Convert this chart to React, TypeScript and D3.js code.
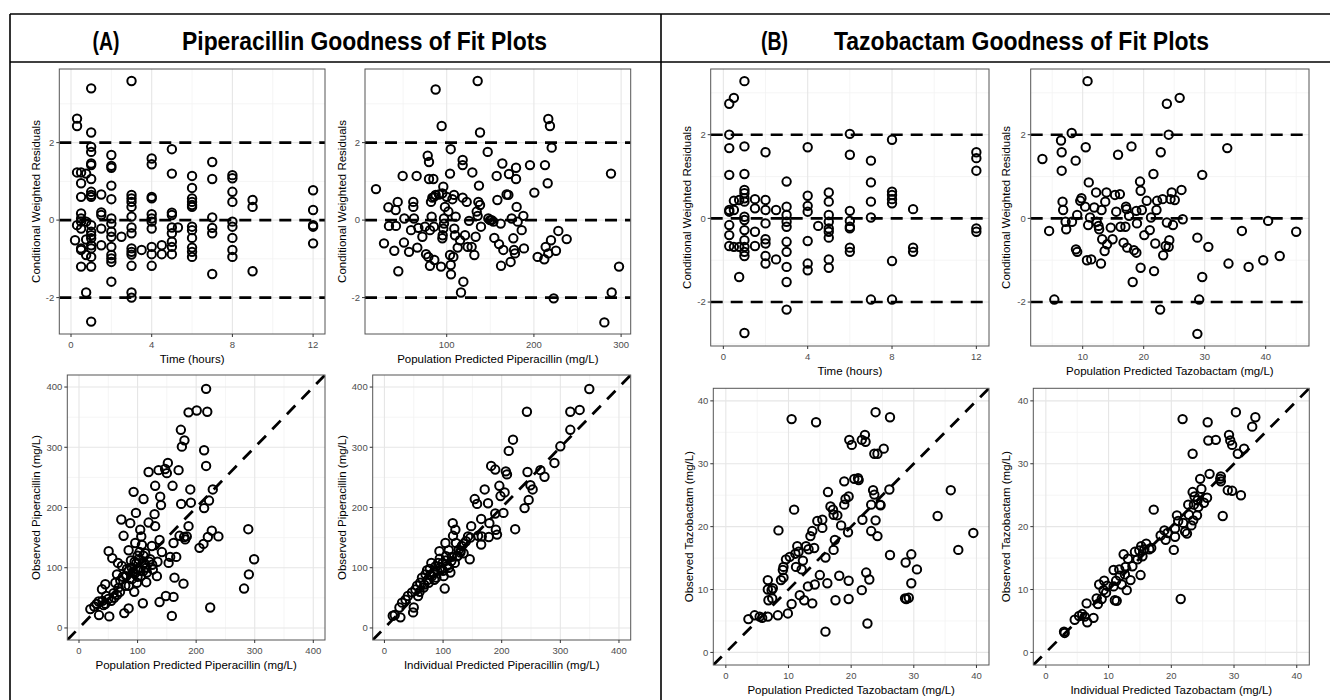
import React from "react";
import * as d3 from "d3";

type Pt = [number, number];

const FONT = "'Liberation Sans', Arial, Helvetica, sans-serif";
const HEAD_FONT = "'Liberation Sans Narrow', 'Arial Narrow', 'Liberation Sans', Arial, sans-serif";

// ---- Piperacillin: time vs CWRES (grouped by sampling time)
const pipTimes = [0.2, 0.3, 0.5, 0.75, 1, 1.5, 2, 2.5, 3, 3.5, 4, 4.5, 5, 5.3, 6, 7, 8, 9, 12];
const pipTimeCwres = [
  [-0.52],
  [2.62, 2.43, 1.23, -0.13],
  [1.23, 0.95, 0.6, 0.17, 0.04, -0.04, -0.22, -0.73, -0.77, -1.2],
  [1.2, -0.04, -0.5, -0.9, -1.87],
  [3.4, 2.26, 1.89, 1.76, 1.46, 1.42, 1.06, 0.73, 0.65, 0.6, -0.13, -0.3, -0.39, -0.47, -0.65, -0.73, -0.95, -1.2, -2.62],
  [0.66, 0.2, 0.13, -0.22, -0.65],
  [1.68, 1.4, 1.35, 0.89, 0.54, 0.04, -0.09, -0.3, -0.43, -0.69, -0.9, -0.99, -1.08, -1.59],
  [-0.43],
  [3.59, 0.65, 0.56, 0.47, 0.34, 0.09, -0.19, -0.34, -0.73, -0.82, -0.89, -1.18, -1.87, -2.0],
  [-0.77],
  [1.59, 1.44, 0.6, 0.56, 0.15, 0.04, -0.04, -0.22, -0.69, -0.88, -1.18],
  [-0.65, -0.88],
  [1.83, 1.2, 0.19, 0.13, -0.19, -0.34, -0.56, -0.69, -0.88],
  [-0.19],
  [1.14, 0.83, 0.56, 0.47, 0.39, 0.34, -0.17, -0.26, -0.46, -0.71, -0.82, -0.95],
  [1.5, 1.06, 0.07, -0.2, -0.34, -1.39],
  [1.16, 1.08, 0.73, 0.47, -0.04, -0.17, -0.46, -0.77, -0.95],
  [0.52, 0.34, -1.32],
  [0.77, 0.26, -0.13, -0.17, -0.6],
];

// ---- Piperacillin: PRED vs CWRES
const pipPredCwres: Pt[] = [
  [18.9, 0.8], [28.1, -0.6], [33.1, 0.33], [33.8, -0.15], [39.9, -0.79], [41.5, 0.26], [41.8, -0.15],
  [43.8, 0.47], [44.5, -1.32], [49.5, 1.14], [51.0, -0.58], [51.4, 0.04], [56.8, -0.82], [59.1, -0.26],
  [61.7, 0.47], [61.7, 0.34], [62.5, 0.04], [65.5, 1.14], [66.3, -0.71], [67.5, -0.2], [72.1, -0.43],
  [75.1, -0.17], [78.2, 1.66], [79.7, 1.5], [79.7, 1.06], [84.7, 1.06], [76.3, -0.88], [78.9, -0.95],
  [80.8, -1.18], [82.0, 0.47], [83.5, 0.58], [85.4, 0.6], [87.3, 0.65], [80.8, -0.26], [82.7, 0.09],
  [85.4, -0.17], [85.8, -1.03], [87.3, 3.37], [91.2, 0.66], [94.2, 2.43], [95.0, 0.69], [96.1, 0.86],
  [93.5, -1.2], [95.0, -0.47], [95.4, -0.39], [96.1, -0.22], [96.9, -0.09], [96.9, 0.04], [98.0, 0.34],
  [100.0, 0.6], [101.9, 0.22], [103.8, 1.2], [104.6, 1.83], [103.8, -0.9], [104.6, -1.16], [104.9, -1.4],
  [106.5, 0.54], [108.4, 0.65], [107.6, -0.95], [108.7, -0.22], [109.5, -0.39], [110.3, 0.09],
  [112.6, -0.71], [115.3, -0.52], [116.4, -1.87], [119.1, -1.59], [118.3, 1.55], [118.3, 1.42],
  [118.3, 0.58], [121.0, -0.39], [122.9, 0.47], [124.0, -0.69], [125.6, -0.02], [128.6, -0.69],
  [129.4, 1.23], [131.7, -0.9], [133.2, -0.43], [134.4, 0.22], [135.5, 3.59], [136.3, 0.47], [137.0, 0.89],
  [138.2, 0.39], [138.2, 2.26], [139.3, -0.17], [135.5, 0.11], [147.0, 1.76], [147.7, 0.04], [149.7, 0.0],
  [151.6, 0.0], [153.5, -0.04], [154.6, -0.46], [157.3, 1.14], [158.1, 0.52], [160.0, -0.62],
  [161.9, -0.09], [162.3, -1.18], [163.8, 1.46], [164.9, -0.77], [168.7, 0.66], [170.7, 0.65],
  [171.4, 1.19], [173.3, -1.08], [174.5, 0.04], [176.4, -0.47], [177.2, -0.77], [178.3, -0.86],
  [179.5, 1.06], [179.5, 1.35], [180.2, 0.34], [181.4, -0.04], [186.0, -0.26], [187.9, 0.11],
  [188.6, -0.73], [195.5, 1.42], [200.5, 0.71], [204.3, -0.95], [211.9, -1.01], [212.7, 1.42],
  [213.5, -0.69], [215.8, 0.95], [216.5, 2.61], [218.4, 2.43], [220.4, 1.87], [219.6, -0.52],
  [216.5, -0.86], [222.7, -2.02], [225.3, -0.79], [228.0, -0.28], [237.6, -0.49], [280.8, -2.64],
  [288.4, 1.2], [289.2, -1.87], [297.6, -1.2],
];

// ---- Piperacillin: PRED vs observed
const pipPredObs: Pt[] = [
  [19.3, 31.3], [26.1, 35.7], [34.1, 21.4], [33.5, 44], [39.2, 64.3], [42, 37.9], [44.9, 72.5], [46.6, 53.3],
  [50.6, 127.5], [51.7, 19.2], [56.8, 115.9], [59, 57.7], [62, 75], [64.8, 89], [66.5, 108], [67.6, 67],
  [70.5, 79], [73.3, 103], [72.2, 180], [76.1, 153], [77.3, 24.7], [79, 70], [80.7, 86], [81.8, 98],
  [84.7, 32.4], [84.7, 129], [87.5, 174], [88.6, 112], [90.3, 81], [92, 93], [93.2, 226], [94.3, 60],
  [96, 141], [97.2, 191], [98, 108], [98.9, 75], [100, 98], [101.7, 114], [103.4, 126], [104.5, 163],
  [105.7, 86], [106.3, 152], [107.4, 138], [109, 41], [110.2, 214], [111.4, 108], [113, 124], [114.8, 76],
  [115.9, 92], [118.8, 175], [118.8, 259], [121.6, 114], [124.4, 136], [126, 97], [129, 189], [130, 169],
  [130, 236], [133, 86], [134, 110], [135.8, 262], [137.5, 43], [137.5, 146], [138.6, 218], [140, 204],
  [141.5, 126], [147, 264], [148.3, 53], [150, 257], [151.7, 274], [153, 108], [155.7, 118], [158.5, 20],
  [159.7, 236], [161.4, 141], [161.4, 51.6], [163, 83.5], [166, 118], [170, 262], [171.6, 153], [174.4, 206],
  [173.9, 329], [175.6, 301], [178.4, 73.6], [179.5, 151], [180, 311.5], [181.3, 147], [184, 152],
  [187, 169], [187, 358], [190, 230], [191, 208], [201, 361], [205.7, 133], [212.5, 139.6], [213.6, 199],
  [213.6, 295], [217, 397], [217, 269], [219, 359], [220, 151], [222, 211.5], [224, 34], [226.7, 161.5],
  [228.4, 230], [238, 152], [281.8, 65.4], [289, 164], [290, 89], [299, 114],
  [30, 40], [40, 45], [45, 40], [50, 48], [55, 45], [60, 50], [65, 55], [70, 60], [75, 85], [85, 70],
  [85, 95], [90, 100], [95, 90], [95, 110], [100, 85], [100, 120], [105, 95], [110, 95], [110, 120],
  [115, 100], [120, 110], [125, 105],
];

// ---- Piperacillin: IPRED vs observed
const pipIpredObs: Pt[] = [
  [14.2, 20.3], [17.6, 21.4], [27.3, 17.6], [25.6, 34], [30, 42], [36, 47], [40, 53], [47, 59], [48.9, 25.8],
  [50, 34], [52.8, 64], [55.7, 70], [57.4, 53], [61, 75], [64, 83.5], [67, 67], [70, 89], [72.7, 96],
  [75.6, 75], [77.3, 98], [80, 108], [81, 86], [84, 92], [87, 102], [88.6, 83.5], [91.5, 108], [93.8, 127.5],
  [94.3, 115], [97, 97], [99.4, 108], [101, 86], [102.8, 65.4], [104, 141], [105, 119], [106.8, 103],
  [109.7, 129], [112.5, 92], [114, 111], [116.5, 174], [117, 153], [120, 108], [121, 163], [122, 141],
  [124, 119], [126.7, 130], [129.5, 125], [132, 136], [135, 124], [139, 144], [142.6, 152], [145.5, 114],
  [146.6, 150], [148, 169], [154, 214], [158, 206], [159.7, 153], [165, 138.5], [165, 181], [166, 152],
  [171, 230], [176.7, 207], [178, 151], [179, 174], [182, 269], [189, 263], [189, 190], [190, 163],
  [192, 155], [196, 236], [198, 219], [203, 191], [205, 225], [207, 260], [209, 255], [212, 294],
  [219.3, 312.6], [223, 164], [239, 199], [243, 359], [244, 259], [246, 212.6], [249, 237], [252.8, 230],
  [266, 262], [273, 251], [290, 274], [300, 301.6], [317, 329], [317, 359], [333, 362], [349.4, 396.7],
  [60, 60], [68, 72], [74, 80], [78, 88], [85, 80], [90, 95], [95, 100], [100, 95], [105, 112], [110, 100],
  [115, 118], [125, 120], [130, 128], [135, 140],
];

// ---- Tazobactam: time vs CWRES
const tazTimes = [0.28, 0.5, 0.75, 1, 1.5, 2, 2.5, 3, 4, 4.5, 5, 6, 7, 8, 9, 12];
const tazTimeCwres = [
  [2.74, 2.0, 1.68, 1.04, 0.2, 0.16, -0.16, -0.4, -0.66],
  [2.88, 0.42, 0.2, -0.68],
  [0.44, -0.68, -1.4],
  [3.28, 1.72, 1.06, 0.68, 0.6, 0.48, 0.4, 0.04, -0.04, -0.28, -0.52, -0.68, -0.8, -0.9, -2.74],
  [0.46, 0.24, -0.32, -0.66],
  [1.58, 0.44, 0.2, -0.12, -0.5, -0.6, -0.9, -1.08],
  [0.2, -0.98],
  [0.88, 0.28, 0.08, -0.08, -0.2, -0.56, -0.8, -1.16, -1.52, -2.18],
  [1.7, 0.54, 0.3, 0.16, -0.54, -1.08, -1.24],
  [-0.18],
  [0.62, 0.4, 0.08, -0.08, -0.24, -0.32, -0.46, -0.98, -1.18],
  [2.02, 1.52, 0.18, -0.06, -0.2, -0.24, -0.7, -0.8],
  [1.38, 0.86, 0.4, 0.02, -1.94],
  [1.88, 0.64, 0.56, 0.46, 0.36, -1.02, -1.94],
  [0.22, -0.7, -0.8],
  [1.58, 1.44, 1.14, -0.24, -0.32],
];

// ---- Tazobactam: PRED vs CWRES
const tazPredCwres: Pt[] = [
  [3.4, 1.42], [4.5, -0.3], [5.35, -1.94], [6.45, 1.86], [6.56, 1.58], [6.56, 1.14], [6.7, 0.4], [6.8, 0.2],
  [7.2, -0.08], [7.3, -0.26], [8.2, 2.04], [8.25, -0.08], [8.85, 1.38], [9.1, 0.08], [8.9, -0.74], [9.1, -0.8],
  [9.6, 0.42], [9.8, 0.48], [10.4, 0.28], [10.5, 1.7], [10.8, 3.28], [10.7, -1.0], [10.9, -0.16], [11.0, 0.86],
  [11.2, 0.02], [11.4, -0.98], [11.9, 0.26], [12.2, 0.62], [12.3, -0.08], [12.6, -0.18], [12.7, -0.26],
  [13.0, -1.08], [13.1, 0.2], [13.2, -0.5], [13.6, -0.78], [13.7, 0.4], [13.9, 0.62], [14.0, -0.62],
  [14.6, -0.22], [14.9, -0.5], [15.3, 0.56], [15.5, 0.16], [15.8, 1.52], [16.1, 0.58], [16.2, -0.2],
  [16.7, -0.58], [17.0, -0.2], [17.1, 0.28], [17.2, 0.22], [17.3, -0.7], [17.6, 0.06], [18.0, 1.72],
  [18.2, -1.52], [18.4, -0.76], [18.8, -0.82], [18.8, 0.18], [18.9, -0.12], [19.4, 0.88], [19.5, 0.66],
  [19.5, -1.18], [19.7, 0.2], [20.1, -0.4], [20.5, 0.42], [21.0, -0.28], [21.2, 0.02], [21.6, 1.06],
  [21.7, -1.26], [21.9, -0.6], [22.1, 0.2], [22.2, 0.42], [22.7, -2.18], [22.8, 1.58], [23.1, 0.46],
  [23.2, -0.88], [23.6, -0.66], [23.8, 2.74], [23.8, -0.1], [24.1, 2.0], [24.1, -0.68], [24.2, -0.52],
  [24.4, 0.46], [24.6, 0.62], [24.8, -0.16], [25.1, 0.44], [25.9, 2.88], [26.2, 0.68], [26.4, -0.02],
  [28.8, -0.46], [29.1, -1.94], [28.8, -2.76], [29.6, 1.04], [29.6, -1.4], [30.6, -0.68], [33.7, 1.68],
  [33.9, -1.08], [36.1, -0.3], [37.2, -1.16], [39.6, -1.0], [40.4, -0.06], [42.3, -0.9], [45.0, -0.32],
];

// ---- Tazobactam: PRED vs observed
const tazPredObs: Pt[] = [
  [3.6, 5.3], [4.6, 5.9], [5.4, 5.7], [5.8, 5.5], [6.7, 5.7], [6.7, 11.5], [6.7, 10.0], [6.8, 8.3], [7.3, 9.9],
  [7.4, 8.6], [7.5, 10.2], [8.3, 5.9], [8.4, 19.4], [8.8, 11.5], [9.1, 13.1], [9.2, 13.6], [9.2, 11.9],
  [9.6, 14.8], [9.9, 6.2], [10.2, 15.2], [10.5, 37.1], [10.5, 7.7], [10.9, 22.7], [11.1, 15.7], [11.2, 13.6],
  [11.4, 16.9], [11.6, 16.0], [11.8, 9.1], [12.1, 13.2], [12.3, 14.6], [12.5, 8.3], [12.8, 16.9], [13.1, 10.5],
  [13.2, 16.4], [13.5, 18.5], [13.8, 19.3], [13.8, 7.8], [14.1, 16.6], [14.2, 10.8], [14.4, 36.6], [14.6, 20.9],
  [15.0, 12.3], [15.4, 21.1], [15.4, 19.8], [15.9, 15.1], [15.9, 3.3], [16.2, 11.0], [16.3, 25.5], [16.7, 23.2],
  [17.1, 22.7], [17.2, 21.9], [17.2, 16.3], [17.4, 17.9], [17.5, 8.3], [17.8, 21.8], [18.1, 12.2], [18.4, 20.2],
  [18.9, 27.2], [18.9, 23.5], [19.1, 24.4], [19.5, 19.1], [19.6, 8.5], [19.6, 11.4], [19.6, 24.8], [19.7, 33.8],
  [20.1, 33.0], [20.5, 27.6], [21.1, 27.7], [21.2, 27.4], [21.7, 9.9], [21.8, 21.1], [21.7, 33.8], [22.2, 34.6],
  [22.3, 33.5], [22.4, 12.7], [22.6, 4.6], [22.9, 11.6], [23.2, 19.3], [23.2, 23.5], [23.5, 25.8], [23.7, 25.1],
  [23.7, 31.6], [23.9, 38.2], [23.9, 21.0], [24.2, 31.6], [24.2, 18.5], [24.6, 23.5], [24.7, 23.4], [25.2, 32.4],
  [26.1, 25.9], [26.2, 37.4], [26.2, 15.5], [28.6, 8.6], [28.7, 14.3], [28.8, 8.5], [29.2, 8.7], [29.6, 15.6],
  [29.6, 11.0], [30.5, 13.2], [33.8, 21.7], [35.9, 25.8], [37.1, 16.3], [39.5, 19.0],
];

// ---- Tazobactam: IPRED vs observed
const tazIpredObs: Pt[] = [
  [2.9, 3.3], [3.0, 3.1], [4.6, 5.2], [5.3, 5.8], [5.8, 6.1], [6.2, 5.7], [6.5, 7.8], [6.6, 4.8], [7.6, 5.5],
  [8.1, 8.6], [8.3, 7.7], [8.5, 10.8], [8.9, 8.5], [9.2, 9.9], [9.3, 11.4], [9.6, 9.5], [9.8, 10.6],
  [10.8, 10.5], [10.8, 13.1], [11.0, 8.3], [11.2, 11.4], [11.3, 8.2], [11.7, 13.2], [11.8, 12.2], [12.1, 10.8],
  [12.4, 15.6], [12.6, 12.4], [12.7, 13.6], [12.9, 9.9], [13.1, 14.9], [13.5, 11.5], [13.8, 13.7], [14.2, 16.0],
  [14.6, 14.8], [14.9, 16.2], [15.1, 12.3], [15.2, 16.9], [15.4, 15.3], [15.7, 16.4], [16.0, 17.3], [16.5, 16.4],
  [16.8, 16.6], [17.2, 22.7], [18.3, 18.6], [18.9, 19.4], [19.1, 17.9], [19.4, 19.0], [20.4, 16.3], [20.6, 18.4],
  [20.6, 19.7], [20.9, 21.8], [21.1, 20.9], [21.5, 8.5], [21.8, 37.1], [21.9, 20.6], [22.2, 19.2], [22.5, 18.9],
  [22.7, 23.5], [22.8, 21.9], [23.2, 20.2], [23.4, 31.6], [23.4, 25.5], [23.5, 21.0], [23.6, 23.5], [23.7, 24.8],
  [24.1, 21.8], [24.2, 24.2], [24.3, 23.1], [24.6, 27.6], [24.8, 26.0], [25.2, 23.8], [25.7, 24.6], [25.8, 36.6],
  [25.9, 33.7], [26.1, 28.4], [27.1, 33.8], [27.8, 27.6], [27.9, 28.0], [27.9, 27.2], [28.2, 21.7], [29.0, 25.8],
  [29.2, 34.6], [29.4, 33.7], [29.7, 33.0], [29.7, 25.7], [30.3, 38.2], [30.6, 31.6], [31.1, 25.0], [31.6, 32.4],
  [32.9, 35.9], [33.4, 37.4],
];

const flatten = (times: number[], groups: number[][]): Pt[] =>
  times.flatMap((t, i) => groups[i].map((v) => [t, v] as Pt));

type Box = { x0: number; x1: number; y0: number; y1: number };

interface PanelProps {
  id: string;
  box: Box;
  xDomain: [number, number];
  yDomain: [number, number];
  xMajor: number[];
  xMinor: number[];
  yMajor: number[];
  yMinor: number[];
  pts: Pt[];
  hlines?: number[];
  identity?: boolean;
  xTitle: string;
  yTitle: string;
  yGap: number;
}

const Panel = (p: PanelProps) => {
  const { box } = p;
  const x = d3.scaleLinear().domain(p.xDomain).range([box.x0, box.x1]);
  const y = d3.scaleLinear().domain(p.yDomain).range([box.y1, box.y0]);
  const dash = "12,8";
  const fmt = (v: number) => String(v);
  return (
    <g>
      <defs>
        <clipPath id={`clip-${p.id}`}>
          <rect x={box.x0} y={box.y0} width={box.x1 - box.x0} height={box.y1 - box.y0} />
        </clipPath>
      </defs>
      {/* grid */}
      {p.xMinor.map((v) => (
        <line key={`xm${v}`} x1={x(v)} x2={x(v)} y1={box.y0} y2={box.y1} stroke="#f2f2f2" strokeWidth={0.8} />
      ))}
      {p.yMinor.map((v) => (
        <line key={`ym${v}`} y1={y(v)} y2={y(v)} x1={box.x0} x2={box.x1} stroke="#f2f2f2" strokeWidth={0.8} />
      ))}
      {p.xMajor.map((v) => (
        <line key={`xM${v}`} x1={x(v)} x2={x(v)} y1={box.y0} y2={box.y1} stroke="#e6e6e6" strokeWidth={1.1} />
      ))}
      {p.yMajor.map((v) => (
        <line key={`yM${v}`} y1={y(v)} y2={y(v)} x1={box.x0} x2={box.x1} stroke="#e6e6e6" strokeWidth={1.1} />
      ))}
      <g clipPath={`url(#clip-${p.id})`}>
        {p.pts.map((d, i) => (
          <circle key={i} cx={x(d[0])} cy={y(d[1])} r={4.2} fill="none" stroke="#000" strokeWidth={2} />
        ))}
        {(p.hlines || []).map((v) => (
          <line key={`h${v}`} x1={box.x0} x2={box.x1} y1={y(v)} y2={y(v)} stroke="#000" strokeWidth={2.6} strokeDasharray={dash} />
        ))}
        {p.identity && (
          <line
            x1={x(p.xDomain[0])}
            y1={y(p.xDomain[0])}
            x2={x(p.xDomain[1])}
            y2={y(p.xDomain[1])}
            stroke="#000"
            strokeWidth={2.8}
            strokeDasharray="12,9"
          />
        )}
      </g>
      <rect x={box.x0} y={box.y0} width={box.x1 - box.x0} height={box.y1 - box.y0} fill="none" stroke="#555" strokeWidth={1} />
      {/* x axis */}
      {p.xMajor.map((v) => (
        <g key={`xt${v}`}>
          <line x1={x(v)} x2={x(v)} y1={box.y1} y2={box.y1 + 3} stroke="#333" strokeWidth={1} />
          <text x={x(v)} y={box.y1 + 14} textAnchor="middle" fontSize={9.5} fill="#4d4d4d" fontFamily={FONT}>
            {fmt(v)}
          </text>
        </g>
      ))}
      {p.yMajor.map((v) => (
        <g key={`yt${v}`}>
          <line x1={box.x0 - 3} x2={box.x0} y1={y(v)} y2={y(v)} stroke="#333" strokeWidth={1} />
          <text x={box.x0 - 5} y={y(v) + 3.4} textAnchor="end" fontSize={9.5} fill="#4d4d4d" fontFamily={FONT}>
            {fmt(v)}
          </text>
        </g>
      ))}
      <text x={(box.x0 + box.x1) / 2} y={box.y1 + 28.6} textAnchor="middle" fontSize={11.5} fill="#000" fontFamily={FONT}>
        {p.xTitle}
      </text>
      <text
        transform={`translate(${box.x0 - p.yGap},${(box.y0 + box.y1) / 2}) rotate(-90)`}
        textAnchor="middle"
        dominantBaseline="central"
        fontSize={11.5}
        fill="#000"
        fontFamily={FONT}
      >
        {p.yTitle}
      </text>
    </g>
  );
};

const CW = "Conditional Weighted Residuals";
const concTicks = [0, 100, 200, 300, 400];
const concMinor = [50, 150, 250, 350];
const tzTicks = [0, 10, 20, 30, 40];
const tzMinor = [5, 15, 25, 35];

const App = () => {
  return (
    <svg
      width={1330}
      height={700}
      style={{ position: "absolute", left: 0, top: 0, background: "#fff" }}
    >
      <rect x={0} y={0} width={1330} height={700} fill="#fff" />
      {/* outer frame */}
      <g stroke="#000" strokeWidth={1.6}>
        <line x1={10} x2={1330} y1={14} y2={14} />
        <line x1={10} x2={1330} y1={62} y2={62} />
        <line x1={10} x2={10} y1={14} y2={700} />
        <line x1={661} x2={661} y1={14} y2={700} />
      </g>
      <g fontFamily={HEAD_FONT} fontWeight="bold" fontSize={25} fill="#000">
        <text x={106} y={50} textAnchor="middle" textLength={27} lengthAdjust="spacingAndGlyphs">(A)</text>
        <text x={182} y={50} textLength={365} lengthAdjust="spacingAndGlyphs">Piperacillin Goodness of Fit Plots</text>
        <text x={774.5} y={50} textAnchor="middle" textLength={27} lengthAdjust="spacingAndGlyphs">(B)</text>
        <text x={834} y={50} textLength={375} lengthAdjust="spacingAndGlyphs">Tazobactam Goodness of Fit Plots</text>
      </g>

      <Panel
        id="a1"
        box={{ x0: 59.3, x1: 325, y0: 69, y1: 334 }}
        xDomain={[-0.58, 12.59]}
        yDomain={[-2.94, 3.9]}
        xMajor={[0, 4, 8, 12]}
        xMinor={[2, 6, 10]}
        yMajor={[-2, 0, 2]}
        yMinor={[-1, 1, 3]}
        pts={flatten(pipTimes, pipTimeCwres)}
        hlines={[-2, 0, 2]}
        xTitle="Time (hours)"
        yTitle={CW}
        yGap={23}
      />
      <Panel
        id="a2"
        box={{ x0: 365, x1: 630.7, y0: 69, y1: 334 }}
        xDomain={[6.3, 311]}
        yDomain={[-2.94, 3.9]}
        xMajor={[100, 200, 300]}
        xMinor={[50, 150, 250]}
        yMajor={[-2, 0, 2]}
        yMinor={[-1, 1, 3]}
        pts={pipPredCwres}
        hlines={[-2, 0, 2]}
        xTitle="Population Predicted Piperacillin (mg/L)"
        yTitle={CW}
        yGap={23}
      />
      <Panel
        id="a3"
        box={{ x0: 67.3, x1: 325, y0: 375, y1: 640 }}
        xDomain={[-20, 420]}
        yDomain={[-20, 420]}
        xMajor={concTicks}
        xMinor={concMinor}
        yMajor={concTicks}
        yMinor={concMinor}
        pts={pipPredObs}
        identity
        xTitle="Population Predicted Piperacillin (mg/L)"
        yTitle="Observed Piperacillin (mg/L)"
        yGap={31}
      />
      <Panel
        id="a4"
        box={{ x0: 372.7, x1: 630.7, y0: 375, y1: 640 }}
        xDomain={[-20, 420]}
        yDomain={[-20, 420]}
        xMajor={concTicks}
        xMinor={concMinor}
        yMajor={concTicks}
        yMinor={concMinor}
        pts={pipIpredObs}
        identity
        xTitle="Individual Predicted Piperacillin (mg/L)"
        yTitle="Observed Piperacillin (mg/L)"
        yGap={31}
      />
      <Panel
        id="b1"
        box={{ x0: 710.7, x1: 989, y0: 69, y1: 346 }}
        xDomain={[-0.6, 12.6]}
        yDomain={[-3.05, 3.57]}
        xMajor={[0, 4, 8, 12]}
        xMinor={[2, 6, 10]}
        yMajor={[-2, 0, 2]}
        yMinor={[-3, -1, 1, 3]}
        pts={flatten(tazTimes, tazTimeCwres)}
        hlines={[-2, 0, 2]}
        xTitle="Time (hours)"
        yTitle={CW}
        yGap={24}
      />
      <Panel
        id="b2"
        box={{ x0: 1030.7, x1: 1309, y0: 69, y1: 346 }}
        xDomain={[1.48, 47.1]}
        yDomain={[-3.05, 3.57]}
        xMajor={[10, 20, 30, 40]}
        xMinor={[5, 15, 25, 35, 45]}
        yMajor={[-2, 0, 2]}
        yMinor={[-3, -1, 1, 3]}
        pts={tazPredCwres}
        hlines={[-2, 0, 2]}
        xTitle="Population Predicted Tazobactam (mg/L)"
        yTitle={CW}
        yGap={25}
      />
      <Panel
        id="b3"
        box={{ x0: 713.3, x1: 989, y0: 388.3, y1: 665 }}
        xDomain={[-2, 42]}
        yDomain={[-2, 42]}
        xMajor={tzTicks}
        xMinor={tzMinor}
        yMajor={tzTicks}
        yMinor={tzMinor}
        pts={tazPredObs}
        identity
        xTitle="Population Predicted Tazobactam (mg/L)"
        yTitle="Observed Tazobactam (mg/L)"
        yGap={24}
      />
      <Panel
        id="b4"
        box={{ x0: 1033.3, x1: 1309.3, y0: 388.3, y1: 665 }}
        xDomain={[-2, 42]}
        yDomain={[-2, 42]}
        xMajor={tzTicks}
        xMinor={tzMinor}
        yMajor={tzTicks}
        yMinor={tzMinor}
        pts={tazIpredObs}
        identity
        xTitle="Individual Predicted Tazobactam (mg/L)"
        yTitle="Observed Tazobactam (mg/L)"
        yGap={27}
      />
    </svg>
  );
};

export default App;
